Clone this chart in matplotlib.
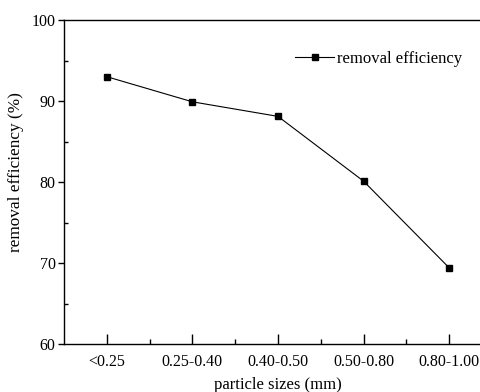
import matplotlib
matplotlib.use("Agg")
import matplotlib.pyplot as plt
from matplotlib.ticker import MultipleLocator, FixedLocator

# Data
sizes = ["<0.25", "0.25-0.40", "0.40-0.50", "0.50-0.80", "0.80-1.00"]
efficiency = [93.0, 89.9, 88.1, 80.1, 69.4]

plt.rcParams["font.family"] = ["Liberation Serif", "DejaVu Serif"]
plt.rcParams["font.size"] = 11.5

fig = plt.figure(figsize=(4.81, 3.92), dpi=100)
# axes run past the right edge of the picture, as in the reference
ax = fig.add_axes([64 / 481, 48 / 392, 428 / 481, 324 / 392])

x = list(range(len(sizes)))
ax.plot(x, efficiency, color="black", linewidth=0.8, marker="s",
        markersize=5, label="removal efficiency")

ax.set_xlim(-0.5, 4.5)
ax.set_ylim(60, 100)
ax.set_xticks(x)
ax.set_xticklabels(sizes)
ax.xaxis.set_minor_locator(FixedLocator([0.5, 1.5, 2.5, 3.5]))
ax.yaxis.set_major_locator(MultipleLocator(10))
ax.yaxis.set_minor_locator(MultipleLocator(5))

ax.spines["right"].set_visible(False)
for side in ("left", "bottom", "top"):
    ax.spines[side].set_linewidth(1.0)

ax.tick_params(axis="x", which="major", direction="in", length=7, width=1, pad=7)
ax.tick_params(axis="x", which="minor", direction="in", length=3.5, width=1)
ax.tick_params(axis="y", which="major", direction="out", length=4, width=1, pad=2)
ax.tick_params(axis="y", which="minor", direction="in", length=3, width=1)

ax.set_xlabel("particle sizes (mm)", fontsize=12, labelpad=5)
ax.set_ylabel("removal efficiency (%)", fontsize=12.4)
ax.yaxis.set_label_coords(-0.093, 0.53)

ax.legend(loc="upper left", bbox_to_anchor=(0.525, 0.925), frameon=False,
          fontsize=12, handlelength=2.3, handletextpad=0.2, borderaxespad=0)

fig.savefig("out.png", dpi=100)
